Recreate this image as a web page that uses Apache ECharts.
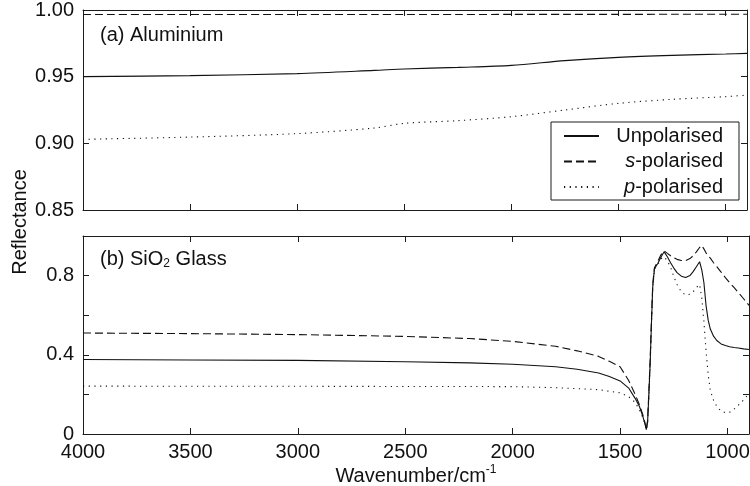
<!DOCTYPE html>
<html>
<head>
<meta charset="utf-8">
<title>Reflectance</title>
<script src="https://cdn.jsdelivr.net/npm/echarts@6/dist/echarts.min.js"></script>
<style>
  html, body { margin: 0; padding: 0; background: #fff; }
  #chart { width: 750px; height: 486px; }
</style>
</head>
<body>
<div id="chart"></div>
<script>
// (a) Aluminium
const alWavenumber = [4000, 3500, 3000, 2640, 2500, 2250, 2000, 1750, 1500, 1250, 1000, 900];
const alUnpolarised = [0.9500, 0.9508, 0.9523, 0.9547, 0.9558, 0.9570, 0.9585, 0.9620, 0.9645, 0.9660, 0.9670, 0.9675];
const alSPolarised = [0.9966, 0.9966, 0.9966, 0.9966, 0.9966, 0.9966, 0.9967, 0.9967, 0.9967, 0.9968, 0.9968, 0.9968];
const alPPolarised = [0.9030, 0.9047, 0.9073, 0.9115, 0.9150, 0.9170, 0.9200, 0.9250, 0.9300, 0.9330, 0.9350, 0.9362];

// (b) SiO2 glass
const glassWavenumber = [4000, 3500, 3000, 2500, 2200, 2000, 1800, 1700, 1600, 1550, 1500, 1460, 1430, 1410, 1395,
  1385, 1378, 1372, 1366, 1360, 1354, 1348, 1340, 1325, 1310, 1295, 1280, 1265, 1250, 1235, 1215, 1195, 1175,
  1160, 1145, 1130, 1120, 1110, 1100, 1090, 1080, 1065, 1050, 1030, 1010, 990, 970, 950, 925, 900];
const glassUnpolarised = [0.376, 0.374, 0.372, 0.365, 0.359, 0.352, 0.340, 0.327, 0.308, 0.290, 0.268, 0.232, 0.180, 0.139, 0.092,
  0.055, 0.022, 0.060, 0.200, 0.360, 0.560, 0.744, 0.836, 0.860, 0.893, 0.920, 0.895, 0.865, 0.838, 0.815, 0.797, 0.790, 0.800,
  0.820, 0.845, 0.870, 0.830, 0.765, 0.650, 0.575, 0.530, 0.494, 0.472, 0.455, 0.447, 0.441, 0.437, 0.434, 0.430, 0.427];
const glassSPolarised = [0.510, 0.507, 0.502, 0.493, 0.482, 0.468, 0.443, 0.420, 0.392, 0.367, 0.340, 0.270, 0.200, 0.148, 0.100,
  0.060, 0.022, 0.070, 0.220, 0.380, 0.580, 0.760, 0.840, 0.870, 0.905, 0.925, 0.912, 0.900, 0.890, 0.882, 0.876, 0.876, 0.886,
  0.900, 0.920, 0.942, 0.952, 0.935, 0.915, 0.900, 0.888, 0.865, 0.845, 0.818, 0.790, 0.764, 0.740, 0.715, 0.683, 0.650];
const glassPPolarised = [0.242, 0.241, 0.241, 0.240, 0.240, 0.239, 0.234, 0.229, 0.224, 0.216, 0.208, 0.188, 0.160, 0.122, 0.085,
  0.055, 0.022, 0.055, 0.190, 0.350, 0.550, 0.740, 0.830, 0.855, 0.885, 0.895, 0.875, 0.842, 0.795, 0.755, 0.718, 0.702, 0.706,
  0.718, 0.740, 0.755, 0.690, 0.570, 0.420, 0.300, 0.220, 0.170, 0.140, 0.115, 0.108, 0.110, 0.125, 0.145, 0.172, 0.205];

const xTickValues = [1000, 1500, 2000, 2500, 3000, 3500, 4000];
const seriesNames = ['Unpolarised', 's-polarised', 'p-polarised'];

const FONT = '"Liberation Sans", Arial, sans-serif';
const INK = '#1c1c1c';
const FS = 20;
const dashStyles = ['solid', [8, 4], [1.2, 4.5]];

const chart = echarts.init(document.getElementById('chart'), null, { renderer: 'canvas' });

function pairs(xs, ys) {
    return xs.map((x, i) => [x, ys[i]]);
}

function xAxisFor(gridIndex, position, withLabels) {
    return {
        type: 'value', gridIndex: gridIndex, position: position, inverse: true,
        min: 900, max: 4000,
        axisLine: { show: true, onZero: false, lineStyle: { color: INK, width: 1 } },
        axisTick: { show: true, inside: true, length: 6, customValues: xTickValues, lineStyle: { color: INK } },
        axisLabel: {
            show: withLabels, customValues: xTickValues, margin: 8,
            formatter: v => String(v),
            color: '#111', fontSize: FS, fontFamily: FONT
        },
        splitLine: { show: false },
        name: withLabels ? 'Wavenumber/cm{sup|-1}' : '',
        nameLocation: 'middle', nameGap: 30,
        nameTextStyle: {
            color: '#111', fontSize: FS, fontFamily: FONT,
            rich: { sup: { fontSize: 12, fontFamily: FONT, color: '#111', verticalAlign: 'top', padding: [0, 0, 12, 0] } }
        }
    };
}

function yAxisFor(gridIndex, position, min, max, interval, fmt) {
    return {
        type: 'value', gridIndex: gridIndex, position: position,
        min: min, max: max, interval: interval,
        axisLine: { show: true, onZero: false, lineStyle: { color: INK, width: 1 } },
        axisTick: { show: true, inside: true, length: 6, lineStyle: { color: INK } },
        axisLabel: {
            show: !!fmt, formatter: fmt, margin: 9,
            color: '#111', fontSize: FS, fontFamily: FONT
        },
        splitLine: { show: false }
    };
}

const topFmt = v => v.toFixed(2);
const bottomFmt = v => {
    const k = Math.round(v * 10);
    return (k === 0 || k === 4 || k === 8) ? (k === 0 ? '0' : (k / 10).toFixed(1)) : '';
};

const panelData = [
    [alUnpolarised, alSPolarised, alPPolarised],
    [glassUnpolarised, glassSPolarised, glassPPolarised]
];
const panelX = [alWavenumber, glassWavenumber];

const series = [];
panelData.forEach((set, p) => {
    set.forEach((vals, i) => {
        series.push({
            name: seriesNames[i], type: 'line',
            xAxisIndex: p * 2, yAxisIndex: p * 2,
            data: pairs(panelX[p], vals),
            symbol: 'none', showSymbol: false, smooth: p === 0 ? 0.3 : false,
            lineStyle: { color: '#111', width: 1.1, type: dashStyles[i], cap: 'butt' },
            itemStyle: { color: '#111' },
            animation: false
        });
    });
});

const legendRich = {
    n: { fontSize: FS, fontFamily: FONT, color: '#111', align: 'right' },
    i: { fontSize: FS, fontFamily: FONT, color: '#111', fontStyle: 'italic', align: 'right' }
};

const option = {
    backgroundColor: '#fff',
    animation: false,
    grid: [
        { left: 83, right: 3, top: 10, height: 200, show: false, outerBoundsMode: 'none', containLabel: false },
        { left: 83, right: 1, top: 236, height: 198, show: false, outerBoundsMode: 'none', containLabel: false }
    ],
    xAxis: [
        xAxisFor(0, 'bottom', false),
        xAxisFor(0, 'top', false),
        xAxisFor(1, 'bottom', true),
        xAxisFor(1, 'top', false)
    ],
    yAxis: [
        yAxisFor(0, 'left', 0.85, 1.0, 0.05, topFmt),
        yAxisFor(0, 'right', 0.85, 1.0, 0.05, null),
        yAxisFor(1, 'left', 0, 1.0, 0.2, bottomFmt),
        yAxisFor(1, 'right', 0, 1.0, 0.2, null)
    ],
    legend: {
        data: seriesNames,
        orient: 'vertical',
        left: 551, top: 122,
        padding: [3, 16, 2, 12],
        itemGap: 3.5,
        itemWidth: 35, itemHeight: 14,
        itemTextGap: 5,
        backgroundColor: '#fff',
        borderColor: INK, borderWidth: 1,
        selectedMode: false,
        itemStyle: { opacity: 0 },
        formatter: name => {
            if (name === 's-polarised') return '{i|s}{n|-polarised}';
            if (name === 'p-polarised') return '{i|p}{n|-polarised}';
            return '{n|' + name + '}';
        },
        textStyle: { width: 119, lineHeight: 22, fontSize: FS, fontFamily: FONT, color: '#111', rich: legendRich }
    },
    graphic: [
        {
            type: 'text', left: 100, top: 25,
            style: { text: '(a) Aluminium', fontSize: FS, fontFamily: FONT, fill: '#111' }
        },
        {
            type: 'text', left: 100, top: 249,
            style: {
                text: '(b) SiO{sub|2} Glass', fontSize: FS, fontFamily: FONT, fill: '#111',
                rich: { sub: { fontSize: 12, fontFamily: FONT, fill: '#111', verticalAlign: 'bottom', padding: [10, 0, 0, 0] } }
            }
        },
        {
            type: 'text', x: 20, y: 222, rotation: Math.PI / 2,
            style: { text: 'Reflectance', fontSize: FS, fontFamily: FONT, fill: '#111', align: 'center', verticalAlign: 'middle' }
        }
    ],
    series: series
};

chart.setOption(option);
window.addEventListener('resize', () => chart.resize());
</script>
</body>
</html>
